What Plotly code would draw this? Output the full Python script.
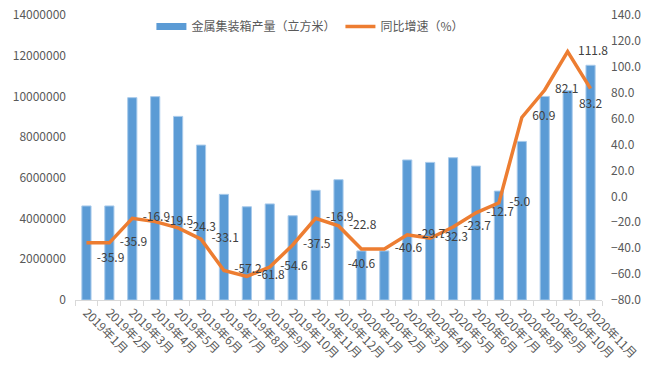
import plotly.graph_objects as go

months = ["2019年1月", "2019年2月", "2019年3月", "2019年4月", "2019年5月", "2019年6月",
          "2019年7月", "2019年8月", "2019年9月", "2019年10月", "2019年11月", "2019年12月",
          "2020年1月", "2020年2月", "2020年3月", "2020年4月", "2020年5月", "2020年6月",
          "2020年7月", "2020年8月", "2020年9月", "2020年10月", "2020年11月"]
output_m3 = [4620000, 4620000, 9940000, 9990000, 9020000, 7610000,
             5190000, 4580000, 4720000, 4140000, 5390000, 5910000,
             2410000, 2410000, 6880000, 6760000, 6990000, 6580000,
             5350000, 7790000, 10000000, 10280000, 11530000]
yoy_pct = [-35.9, -35.9, -16.9, -19.5, -24.3, -33.1, -57.2, -61.8, -54.6, -37.5, -16.9, -22.8,
           -40.6, -40.6, -29.7, -32.3, -23.7, -12.7, -5.0, 60.9, 82.1, 111.8, 83.2]
left_ticks = [0, 2000000, 4000000, 6000000, 8000000, 10000000, 12000000, 14000000]
right_ticks = [-80, -60, -40, -20, 0, 20, 40, 60, 80, 100, 120, 140]

bar_name = "金属集装箱产量（立方米）"
line_name = "同比增速（%）"

label_pos = ["bottom right"] + ["middle right"] * 11 + ["bottom center"] + ["middle right"] * 9 + ["bottom center"]

FONT = "Noto Sans CJK SC"
TXT = "#595959"

fig = go.Figure()
fig.add_trace(go.Bar(
    x=months, y=output_m3, name=bar_name, showlegend=False,
    marker=dict(color="#5B9BD5", line=dict(color="#A8CAEB", width=1)),
    yaxis="y",
))
# legend entry drawn as a wide rectangle like the original
fig.add_trace(go.Scatter(
    x=[None], y=[None], mode="lines", name=bar_name,
    line=dict(color="#5B9BD5", width=7), yaxis="y",
))
fig.add_trace(go.Scatter(
    x=months, y=yoy_pct, name=line_name, mode="lines+markers+text",
    line=dict(color="#ED7D31", width=3.5),
    marker=dict(size=15, color="rgba(0,0,0,0)", line=dict(width=0)),
    text=[f"{v:.1f}" for v in yoy_pct], textposition=label_pos,
    textfont=dict(family=FONT, size=12, color="#404040"),
    yaxis="y2", cliponaxis=False,
))

fig.update_layout(
    width=649, height=380,
    margin=dict(l=75, r=47, t=15, b=80),
    paper_bgcolor="white", plot_bgcolor="white",
    font=dict(family=FONT, size=12, color=TXT),
    bargap=0.6,
    xaxis=dict(
        type="category", range=[-0.5, len(months) - 0.5], tickangle=45,
        showgrid=False, automargin=False,
        showline=True, linecolor="#D9D9D9", linewidth=1,
        ticks="outside", ticklen=5, tickcolor="#D9D9D9",
        tickson="boundaries",
        tickfont=dict(family=FONT, size=12, color=TXT),
    ),
    yaxis=dict(
        range=[0, 14000000], tickvals=left_ticks, tickformat="d", automargin=False,
        showgrid=False, zeroline=False, showline=False, ticklabelstandoff=8,
        tickfont=dict(family=FONT, size=12, color=TXT),
    ),
    yaxis2=dict(
        range=[-80, 140], tickvals=right_ticks, tickformat=".1f", automargin=False,
        overlaying="y", side="right", ticklabelstandoff=8,
        showgrid=False, zeroline=False, showline=False,
        tickfont=dict(family=FONT, size=12, color=TXT),
    ),
    legend=dict(
        orientation="h", x=0.145, xanchor="left", y=0.96, yanchor="middle",
        bgcolor="rgba(0,0,0,0)", font=dict(family=FONT, size=12, color=TXT),
        itemwidth=30,
    ),
)

fig.write_html("out.html", config={"displayModeBar": False},
               post_script="document.body.style.margin='0';")
